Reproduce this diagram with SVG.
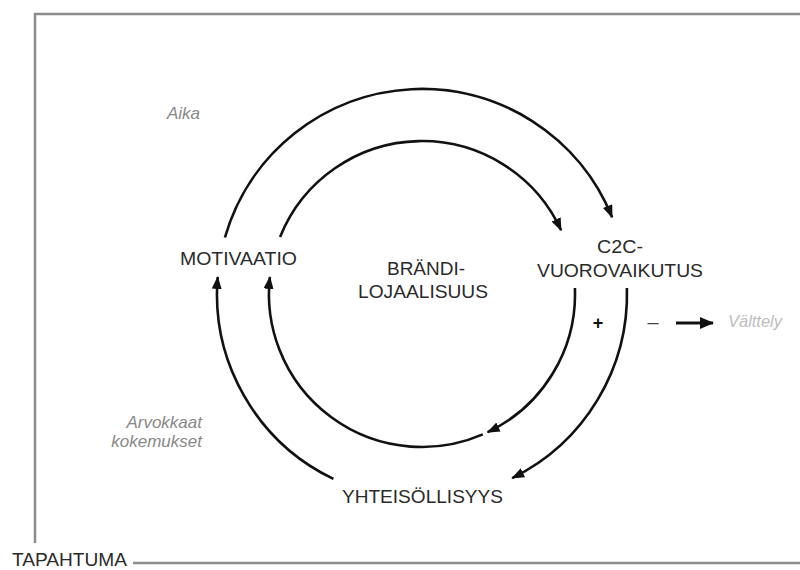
<svg xmlns="http://www.w3.org/2000/svg" width="800" height="570" viewBox="0 0 800 570">
<style>
.frame{fill:none;stroke:#8c8c8c;stroke-width:2.5}
.arc{fill:none;stroke:#111;stroke-width:2.6}
.lbl{font-family:"Liberation Sans",Arial,sans-serif;font-size:18px;fill:#2a2a2a}
.note{font-family:"Liberation Sans",Arial,sans-serif;font-size:17px;font-style:italic;fill:#888}
.light{fill:#bdbdbd}
</style>
<defs>
<marker id="ah" markerUnits="userSpaceOnUse" markerWidth="13" markerHeight="10" viewBox="0 0 13 10" refX="12" refY="5" orient="auto">
<path d="M0,0 L13,5 L0,10 Z" fill="#111"/>
</marker>
<marker id="ah2" markerUnits="userSpaceOnUse" markerWidth="14" markerHeight="12" viewBox="0 0 14 12" refX="13" refY="6" orient="auto">
<path d="M0,0 L14,6 L0,12 Z" fill="#111"/>
</marker>
</defs>
<rect width="800" height="570" fill="#fff"/>
<g id="frame">
<path class="frame" d="M35,543 V14 H800"/>
<path class="frame" d="M133,563 H800"/>
<text class="lbl" x="12" y="566" font-size="17" textLength="115" lengthAdjust="spacingAndGlyphs">TAPAHTUMA</text>
</g>
<g id="connectors">
<path class="arc" marker-end="url(#ah)" d="M224.9,237.5 A205,205 0 0 1 612.1,217.2"/>
<path class="arc" marker-end="url(#ah)" d="M280.1,236.9 A153,153 0 0 1 561.1,230.3"/>
<path class="arc" marker-end="url(#ah)" d="M333.4,478.9 A205,205 0 0 1 217.7,277"/>
<path class="arc" marker-end="url(#ah)" d="M482.8,434.4 A153,153 0 0 1 269.9,277"/>
<path class="arc" marker-end="url(#ah)" d="M626.9,288 A205,205 0 0 1 512.2,478.1"/>
<path class="arc" marker-end="url(#ah)" d="M574.9,288 A153,153 0 0 1 487.6,432.2"/>
<path fill="none" stroke="#111" stroke-width="3.2" marker-end="url(#ah2)" d="M676,323 H713"/>
</g>
<g id="motivaatio">
<text class="lbl" x="180" y="265" textLength="117" lengthAdjust="spacingAndGlyphs">MOTIVAATIO</text>
</g>
<g id="c2c">
<text class="lbl" x="597" y="253" textLength="46" lengthAdjust="spacingAndGlyphs">C2C-</text>
<text class="lbl" x="537" y="277" textLength="166" lengthAdjust="spacingAndGlyphs">VUOROVAIKUTUS</text>
</g>
<g id="brandilojaalisuus">
<text class="lbl" x="387" y="275" textLength="78" lengthAdjust="spacingAndGlyphs">BRÄNDI-</text>
<text class="lbl" x="358" y="298" textLength="130" lengthAdjust="spacingAndGlyphs">LOJAALISUUS</text>
</g>
<g id="yhteisollisyys">
<text class="lbl" x="342" y="503" textLength="161" lengthAdjust="spacingAndGlyphs">YHTEISÖLLISYYS</text>
</g>
<g id="notes">
<text class="note" x="200" y="119" text-anchor="end">Aika</text>
<text class="note" x="202" y="428" text-anchor="end">Arvokkaat</text>
<text class="note" x="202" y="447" text-anchor="end">kokemukset</text>
<text class="note light" x="728" y="327" textLength="54" lengthAdjust="spacingAndGlyphs">Välttely</text>
</g>
<g id="signs">
<text x="598" y="329" text-anchor="middle" font-family="Liberation Sans,Arial,sans-serif" font-size="18" font-weight="bold" fill="#111">+</text>
<text x="653" y="329" text-anchor="middle" font-family="Liberation Sans,Arial,sans-serif" font-size="20" fill="#444">–</text>
</g>
</svg>
